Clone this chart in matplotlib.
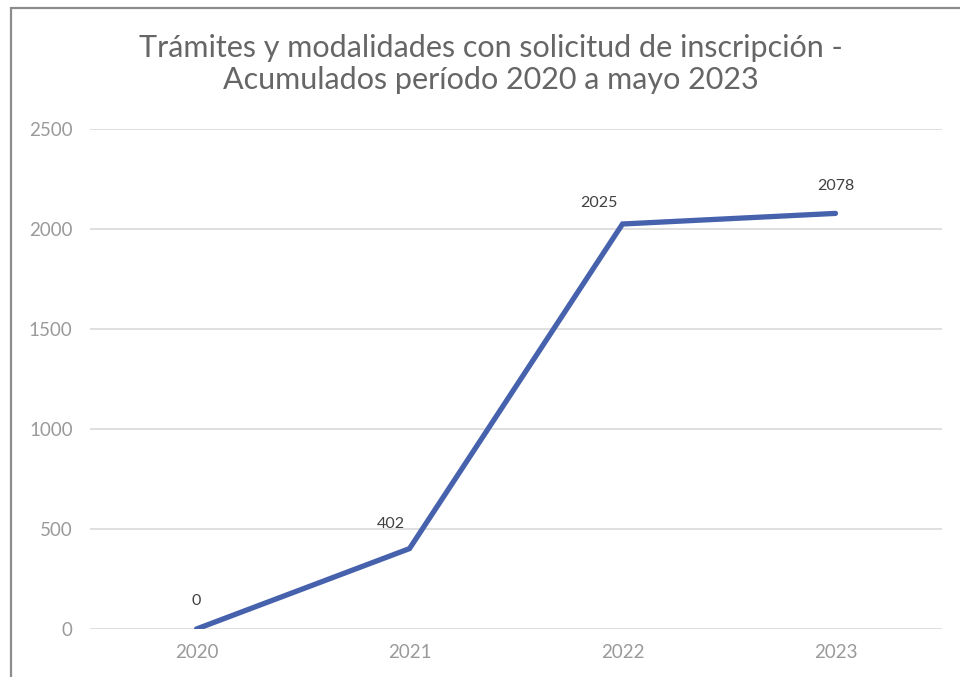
import matplotlib.pyplot as plt
from matplotlib.patches import Rectangle

years = ['2020', '2021', '2022', '2023']
totals = [0, 402, 2025, 2078]
# label offsets in pixels (dx, dy) as placed in the original
label_offsets = [(0, 28), (-19, 25), (-24, 21), (0, 27)]

W, H = 960, 677
fig = plt.figure(figsize=(W / 100, H / 100), dpi=100)
ax = fig.add_axes([90 / W, 1 - 629 / H, 852 / W, 500 / H])

x = [i + 0.5 for i in range(len(years))]
ax.plot(x, totals, color='#4662ad', lw=3.8, solid_capstyle='round',
        solid_joinstyle='miter', zorder=3)

for xi, v, (dx, dy) in zip(x, totals, label_offsets):
    ax.annotate(str(v), (xi, v), xytext=(dx, dy), textcoords='offset pixels',
                ha='center', va='center', fontsize=11.5, color='#404040',
                family='Lato')

ax.set_xlim(0, 4)
ax.set_ylim(0, 2500)
ax.set_yticks([0, 500, 1000, 1500, 2000, 2500])
ax.set_xticks(x)
ax.set_xticklabels(years)
ax.grid(axis='y', color='#d9d9d9', lw=1.2)
ax.set_axisbelow(True)
for s in ax.spines.values():
    s.set_visible(False)
ax.tick_params(length=0, labelsize=13.5, colors='#9a9a9a', pad=12.5)
ax.tick_params(axis='x', pad=11)
for lab in ax.get_xticklabels() + ax.get_yticklabels():
    lab.set_family('Lato')

fig.text(491 / W, 1 - 64 / H,
         'Trámites y modalidades con solicitud de inscripción -\n'
         'Acumulados período 2020 a mayo 2023',
         ha='center', va='center', fontsize=22, color='#666666',
         family='Lato', linespacing=1.2)

# outer chart frame (cropped on right and bottom)
fig.patches.append(Rectangle((10.5 / W, -0.05), 1.0, 1 - 8 / H + 0.05,
                             transform=fig.transFigure, fill=False,
                             edgecolor='#8c8c8c', lw=1.6))

fig.savefig('out.png', dpi=100)
